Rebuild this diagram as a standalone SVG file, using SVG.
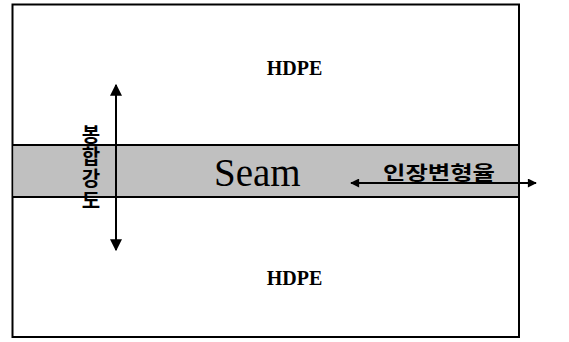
<svg xmlns="http://www.w3.org/2000/svg" width="569" height="342" viewBox="0 0 569 342">
<style>
.frame{fill:#fff;stroke:#000;stroke-width:2}
.band{fill:#c0c0c0;stroke:none}
.edge{stroke:#000;stroke-width:2;fill:none}
.hdpe{font-family:"Liberation Serif",serif;font-weight:bold;font-size:20px;fill:#000}
.seam{font-family:"Liberation Serif",serif;font-size:39px;fill:#000}
.kr{font-family:"Noto Sans CJK KR","Noto Sans",sans-serif;font-weight:bold;fill:#000}
.vert{writing-mode:vertical-rl;text-orientation:upright}
.arrow{stroke:#000;stroke-width:2;fill:none}
</style>
<defs>
<marker id="ah" viewBox="0 0 10 10" refX="9" refY="5" markerWidth="6" markerHeight="6" orient="auto-start-reverse" markerUnits="strokeWidth">
<path d="M0,0 L10,5 L0,10 z" fill="#000"/>
</marker>
<marker id="ah2" viewBox="0 0 10 10" refX="9" refY="5" markerWidth="5" markerHeight="4.5" orient="auto-start-reverse" markerUnits="strokeWidth">
<path d="M0,0 L10,5 L0,10 z" fill="#000"/>
</marker>
</defs>
<g id="frame">
<rect class="frame" x="12.5" y="4.5" width="506.5" height="332.5"/>
</g>
<g id="seam-band">
<rect class="band" x="13.5" y="145" width="504.5" height="52"/>
<line class="edge" x1="12.5" y1="145" x2="519" y2="145"/>
<line class="edge" x1="12.5" y1="197" x2="519" y2="197"/>
<text class="seam" x="214" y="185.5">Seam</text>
</g>
<g id="hdpe-top">
<text class="hdpe" x="294.5" y="75" text-anchor="middle">HDPE</text>
</g>
<g id="hdpe-bottom">
<text class="hdpe" x="294.5" y="285" text-anchor="middle">HDPE</text>
</g>
<g id="label-bond">
<text class="kr vert" font-size="20" x="91" y="124" letter-spacing="2">봉합강도</text>
</g>
<g id="label-strain">
<text class="kr" font-size="19" x="383" y="179.5" textLength="112" lengthAdjust="spacingAndGlyphs">인장변형율</text>
</g>
<g id="connectors">
<line class="arrow" x1="116" y1="85" x2="116" y2="250" marker-start="url(#ah)" marker-end="url(#ah)"/>
<line class="arrow" x1="351" y1="183" x2="536" y2="183" marker-start="url(#ah2)" marker-end="url(#ah2)"/>
</g>
</svg>
